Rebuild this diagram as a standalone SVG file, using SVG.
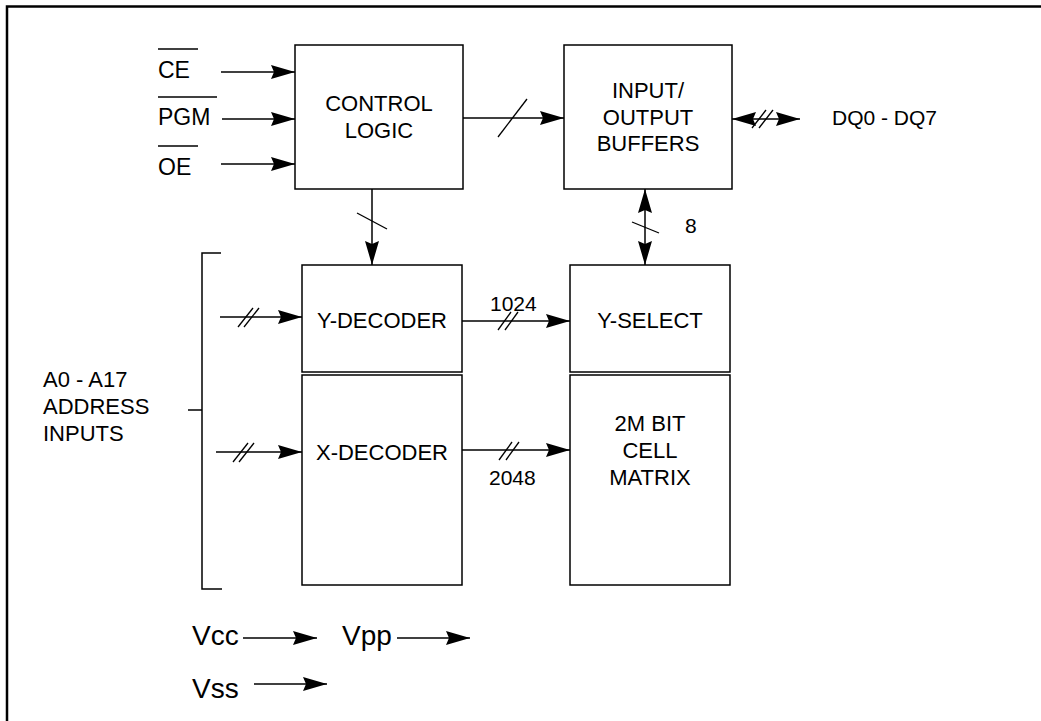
<svg xmlns="http://www.w3.org/2000/svg" width="1041" height="721" viewBox="0 0 1041 721">
<style>
.box{fill:#fff;stroke:#000;stroke-width:1.5}
.ln{fill:none;stroke:#000;stroke-width:1.5}
.sl{fill:none;stroke:#000;stroke-width:1.3}
.t{font-family:"Liberation Sans",Arial,sans-serif;font-size:22px;fill:#000}
.d{font-family:"Liberation Sans",Arial,sans-serif;font-size:21px;fill:#000}
.s{font-family:"Liberation Sans",Arial,sans-serif;font-size:23px;fill:#000}
.v{font-family:"Liberation Sans",Arial,sans-serif;font-size:28px;fill:#000}
.m{text-anchor:middle}
</style>
<defs>
<marker id="ah" markerUnits="userSpaceOnUse" markerWidth="24" markerHeight="14" refX="24" refY="7" orient="auto">
<path d="M0,0 L24,7 L0,14 L3,7 z" fill="#000"/>
</marker>
<marker id="ahs" markerUnits="userSpaceOnUse" markerWidth="24" markerHeight="14" refX="0" refY="7" orient="auto">
<path d="M24,0 L0,7 L24,14 L21,7 z" fill="#000"/>
</marker>
</defs>
<rect width="1041" height="721" fill="#fff"/>
<path d="M7,721 V6.5 H1041" fill="none" stroke="#000" stroke-width="2.5"/>

<g id="control-logic">
<rect class="box" x="295" y="45" width="168" height="144"/>
<text class="t m" x="379" y="111">CONTROL</text>
<text class="t m" x="379" y="138">LOGIC</text>
</g>
<g id="io-buffers">
<rect class="box" x="564" y="45" width="168" height="144"/>
<text class="t m" x="648" y="98">INPUT/</text>
<text class="t m" x="648" y="125">OUTPUT</text>
<text class="t m" x="648" y="151">BUFFERS</text>
</g>
<g id="y-decoder">
<rect class="box" x="302" y="265" width="160" height="107"/>
<text class="t m" x="382" y="328">Y-DECODER</text>
</g>
<g id="x-decoder">
<rect class="box" x="302" y="375" width="160" height="210"/>
<text class="t m" x="382" y="460">X-DECODER</text>
</g>
<g id="y-select">
<rect class="box" x="570" y="265" width="160" height="107"/>
<text class="t m" x="650" y="328">Y-SELECT</text>
</g>
<g id="cell-matrix">
<rect class="box" x="570" y="375" width="160" height="210"/>
<text class="t m" x="650" y="431">2M BIT</text>
<text class="t m" x="650" y="458">CELL</text>
<text class="t m" x="650" y="485">MATRIX</text>
</g>

<g id="signals">
<text class="s" x="158" y="78">CE</text>
<line class="ln" x1="158" y1="49" x2="198" y2="49"/>
<text class="s" x="158" y="125">PGM</text>
<line class="ln" x1="158" y1="97" x2="217" y2="97"/>
<text class="s" x="158" y="175">OE</text>
<line class="ln" x1="158" y1="146" x2="198" y2="146"/>
<text class="d" x="832" y="125">DQ0 - DQ7</text>
<text class="t" x="43" y="387">A0 - A17</text>
<text class="t" x="43" y="414">ADDRESS</text>
<text class="t" x="43" y="441">INPUTS</text>
<text class="d" x="685" y="233">8</text>
<text class="d" x="490" y="311">1024</text>
<text class="d" x="489" y="485">2048</text>
<text class="v" x="192" y="645">Vcc</text>
<text class="v" x="342" y="645">Vpp</text>
<text class="v" x="192" y="698">Vss</text>
</g>

<g id="connectors">
<line class="ln" x1="221" y1="72" x2="295" y2="72" marker-end="url(#ah)"/>
<line class="ln" x1="222" y1="119" x2="295" y2="119" marker-end="url(#ah)"/>
<line class="ln" x1="221" y1="164" x2="295" y2="164" marker-end="url(#ah)"/>
<line class="ln" x1="463" y1="118" x2="564" y2="118" marker-end="url(#ah)"/>
<line class="sl" x1="498" y1="137" x2="527" y2="99"/>
<line class="ln" x1="732" y1="119" x2="800" y2="119" marker-start="url(#ahs)" marker-end="url(#ah)"/>
<line class="sl" x1="752" y1="128" x2="766" y2="110"/>
<line class="sl" x1="759" y1="128" x2="773" y2="110"/>
<line class="ln" x1="372" y1="189" x2="372" y2="265" marker-end="url(#ah)"/>
<line class="sl" x1="357" y1="213" x2="387" y2="229"/>
<line class="ln" x1="645" y1="189" x2="645" y2="265" marker-start="url(#ahs)" marker-end="url(#ah)"/>
<line class="sl" x1="632" y1="222" x2="659" y2="233"/>
<line class="ln" x1="220" y1="317" x2="302" y2="317" marker-end="url(#ah)"/>
<line class="sl" x1="238" y1="327" x2="253" y2="308"/>
<line class="sl" x1="244" y1="327" x2="259" y2="308"/>
<line class="ln" x1="216" y1="452" x2="302" y2="452" marker-end="url(#ah)"/>
<line class="sl" x1="233" y1="462" x2="248" y2="443"/>
<line class="sl" x1="239" y1="462" x2="254" y2="443"/>
<line class="ln" x1="462" y1="321" x2="570" y2="321" marker-end="url(#ah)"/>
<line class="sl" x1="498" y1="330" x2="511" y2="312"/>
<line class="sl" x1="505" y1="330" x2="518" y2="312"/>
<line class="ln" x1="462" y1="450" x2="570" y2="450" marker-end="url(#ah)"/>
<line class="sl" x1="499" y1="460" x2="512" y2="442"/>
<line class="sl" x1="506" y1="460" x2="519" y2="442"/>
<path class="ln" d="M221,253 H202 V589 H222"/>
<line class="ln" x1="188" y1="410" x2="202" y2="410"/>
<line class="ln" x1="243" y1="638" x2="317" y2="638" marker-end="url(#ah)"/>
<line class="ln" x1="397" y1="638" x2="470" y2="638" marker-end="url(#ah)"/>
<line class="ln" x1="254" y1="684" x2="327" y2="684" marker-end="url(#ah)"/>
</g>
</svg>
